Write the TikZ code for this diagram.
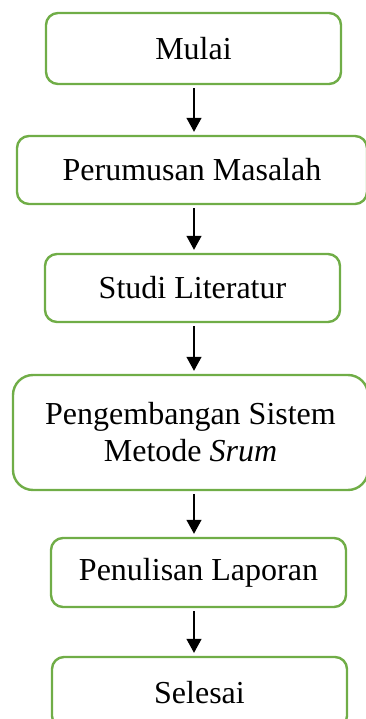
\documentclass[tikz,border=0pt]{standalone}
\usepackage{fontspec}
\setmainfont{Liberation Serif}
\usepackage{tikz}
\usetikzlibrary{arrows.meta}
\definecolor{flowGreen}{HTML}{70AD47}
\tikzset{
  stepbox/.style={draw=flowGreen, line width=2.4pt, rounded corners=12pt,
    minimum width=295pt, minimum height=69pt, inner sep=0pt, align=center,
    font=\fontsize{32}{37}\selectfont},
  flow/.style={-{Triangle[length=14pt,width=15pt]}, line width=1.3pt,
    shorten <=3pt, shorten >=3pt},
}

\begin{document}
\begin{tikzpicture}[x=1pt, y=-1pt]
  \useasboundingbox (0,0) rectangle (365,719);
  \node[stepbox, minimum height=71pt] (mulai) at (193.5,48.5) {Mulai};
  \node[stepbox, minimum width=350pt, minimum height=68pt] (rumusan) at (192,170) {Perumusan Masalah};
  \node[stepbox, minimum height=68pt] (studi) at (192.5,288) {Studi Literatur};
  \node[stepbox, minimum width=355pt, minimum height=115pt, rounded corners=20pt] (kembang)
    at (190.5,432.5) {Pengembangan Sistem\\Metode \textit{Srum}};
  \node[stepbox] (tulis) at (198.5,572.5) {Penulisan Laporan};
  \node[stepbox, minimum height=71pt] (selesai) at (199.5,692.5) {Selesai};
  \coordinate (spine) at (194,0);
  \draw[flow] (spine |- mulai.south) -- (spine |- rumusan.north);
  \draw[flow] (spine |- rumusan.south) -- (spine |- studi.north);
  \draw[flow] (spine |- studi.south) -- (spine |- kembang.north);
  \draw[flow] (spine |- kembang.south) -- (spine |- tulis.north);
  \draw[flow] (spine |- tulis.south) -- (spine |- selesai.north);
\end{tikzpicture}
\end{document}
